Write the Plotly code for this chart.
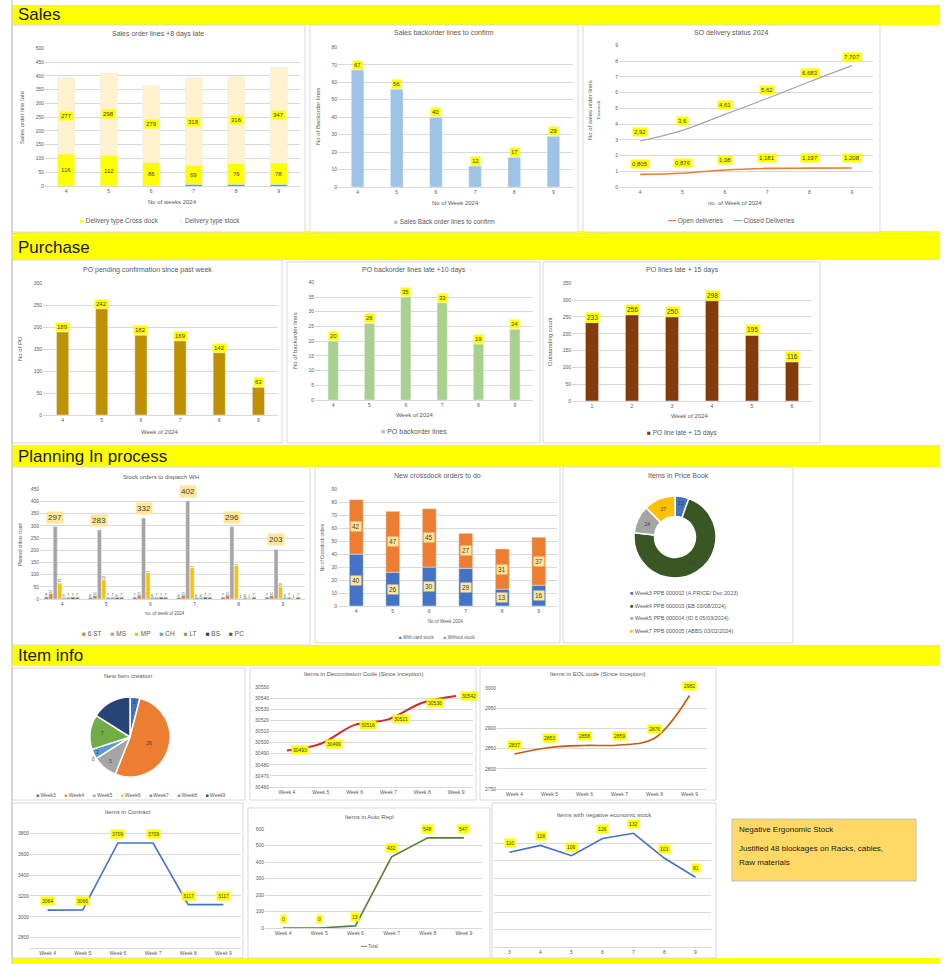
import plotly.graph_objects as go

W, H = 946, 964
FONT = "Liberation Sans"
TXT = "#595959"
GRID = "#D9D9D9"
YELLOW = "#FFFF00"
SOFT = "#FFE699"

# ---------------------------------------------------------------------------
# Data
# ---------------------------------------------------------------------------

# Sales
sales_weeks = ["4", "5", "6", "7", "8", "9"]
late_other = [0, 0, 0, 6, 6, 6]
late_crossdock = [116, 112, 86, 69, 76, 78]
late_stock = [277, 298, 279, 318, 316, 347]

backorder_weeks = ["4", "5", "6", "7", "8", "9"]
backorder_lines = [67, 56, 40, 12, 17, 29]

delivery_weeks = ["4", "5", "6", "7", "8", "9"]
open_deliveries = [0.805, 0.876, 1.08, 1.181, 1.197, 1.208]
closed_deliveries = [2.92, 3.6, 4.61, 5.62, 6.683, 7.707]

# Purchase
po_weeks = ["4", "5", "6", "7", "8", "9"]
po_pending = [189, 242, 182, 169, 142, 63]
po_backorder = [20, 26, 35, 33, 19, 24]
po_late_weeks = ["1", "2", "3", "4", "5", "6"]
po_late = [233, 256, 250, 298, 195, 116]

# Planning
stock_weeks = ["4", "5", "6", "7", "8", "9"]
stock_names = ["ST", "6.ST", "MS", "MP", "CH", "LT", "BS", "PC"]
stock_st = [8, 6, 7, 6, 7, 7]
stock_6st = [22, 14, 15, 15, 15, 14]
stock_ms = [297, 283, 332, 402, 296, 203]
stock_mp = [65, 79, 107, 128, 137, 49]
stock_ch = [5, 7, 6, 6, 1, 6]
stock_lt = [7, 7, 7, 6, 6, 7]
stock_bs = [7, 6, 7, 7, 1, 1]
stock_pc = [7, 7, 7, 7, 7, 7]

crossdock_weeks = ["4", "5", "6", "7", "8", "9"]
crossdock_with = [40, 26, 30, 29, 13, 16]
crossdock_without = [42, 47, 45, 27, 31, 37]

pricebook_labels = ["Week3 PPB 000002 (A.PRICE/ Dec 2023)",
                    "Week4 PPB 000003 (EB 03/08/2024)",
                    "Week5 PPB 000004 (ID 6 05/03/2024)",
                    "Week7 PPB 000005 (ABBS 03/02/2024)"]
pricebook_values = [12, 155, 24, 27]

# Item info
new_item_weeks = ["Week3", "Week4", "Week5", "Week6", "Week7", "Week8", "Week9"]
new_item_counts = [2, 26, 5, 0, 2, 7, 8]

item_weeks = ["Week 4", "Week 5", "Week 6", "Week 7", "Week 8", "Week 9"]
decom_items = [30493, 30499, 30516, 30521, 30536, 30542]
eol_items = [2837, 2853, 2858, 2859, 2876, 2982]
contract_items = [3064, 3066, 3709, 3709, 3117, 3117]
autorepl_items = [0, 0, 13, 432, 548, 547]

negstock_weeks = ["3", "4", "5", "6", "7", "8", "9"]
negstock_items = [110, 118, 106, 126, 132, 103, 81]

# ---------------------------------------------------------------------------
# Helpers
# ---------------------------------------------------------------------------

fig = go.Figure()
shapes = []
annotations = []


def px_x(x):
    return x / W


def px_y(y):
    return 1 - y / H


def ax_ids(n):
    s = "" if n == 1 else str(n)
    return "x" + s, "y" + s, "xaxis" + s, "yaxis" + s


def add_axes(n, area, cats, yrange, dtick, yticks=True):
    xr, yr, xa, ya = ax_ids(n)
    x0, x1, y0, y1 = area
    fig.update_layout(**{
        xa: dict(domain=[px_x(x0), px_x(x1)], anchor=yr, type="category",
                 categoryorder="array", categoryarray=cats,
                 range=[-0.5, len(cats) - 0.5],
                 showline=True, linecolor=GRID, linewidth=1, ticks="",
                 showgrid=False, zeroline=False,
                 tickfont=dict(size=5, color=TXT)),
        ya: dict(domain=[px_y(y1), px_y(y0)], anchor=xr, range=yrange, dtick=dtick,
                 tickformat="d", showgrid=True, gridcolor=GRID, gridwidth=1,
                 zeroline=False, showline=False, ticks="", showticklabels=yticks,
                 tickfont=dict(size=5, color=TXT)),
    })


def tag(n, x, y, text, bg=YELLOW, size=6, yanchor="middle", xanchor="center",
        yshift=0, xshift=0):
    xr, yr, _, _ = ax_ids(n)
    annotations.append(dict(
        xref=xr, yref=yr, x=x, y=y, text=text, showarrow=False, bgcolor=bg,
        borderpad=1, font=dict(size=size, color="#404040"),
        yanchor=yanchor, xanchor=xanchor, yshift=yshift, xshift=xshift))


def note(x, y, text, size=6, color=TXT, angle=0, xanchor="center"):
    annotations.append(dict(
        xref="paper", yref="paper", x=px_x(x), y=px_y(y), text=text,
        showarrow=False, textangle=angle, font=dict(size=size, color=color),
        xanchor=xanchor, yanchor="middle", align="left"))


def box(x0, y0, x1, y1, fill="white", line=GRID, width=1):
    shapes.append(dict(
        type="rect", xref="paper", yref="paper",
        x0=px_x(x0), x1=px_x(x1), y0=px_y(y1), y1=px_y(y0),
        fillcolor=fill, line=dict(color=line, width=width), layer="below"))


def legend_row(names, colors, x, y, size=6, gap=5, sym="■", xanchor="center"):
    parts = [f'<span style="color:{c}">{sym}</span>\u00a0{nm}' for nm, c in zip(names, colors)]
    note(x, y, ("\u00a0" * gap).join(parts), size=size, xanchor=xanchor)


def header(y0, y1, text):
    box(12, y0, 940, y1, fill=YELLOW, line=YELLOW, width=0)
    annotations.append(dict(
        xref="paper", yref="paper", x=px_x(16), y=px_y((y0 + y1) / 2),
        text=text, showarrow=False, xanchor="left", yanchor="middle",
        font=dict(size=17, color="#1A1A1A")))


# ---------------------------------------------------------------------------
# Sheet frame
# ---------------------------------------------------------------------------

shapes.append(dict(type="line", xref="paper", yref="paper", x0=px_x(12), x1=px_x(12),
                   y0=0, y1=1, line=dict(color="#BFBFBF", width=1)))
header(5, 25, "Sales")
box(12, 231, 940, 235, fill=YELLOW, line=YELLOW, width=0)
header(236, 260, "Purchase")
header(445, 467, "Planning In process")
header(645, 666, "Item info")
box(12, 958, 940, 964, fill=YELLOW, line=YELLOW, width=0)

for b in [(12, 25, 305, 232), (310, 25, 578, 232), (583, 25, 880, 232),
          (12, 260, 282, 443), (287, 262, 540, 443), (543, 262, 820, 443),
          (12, 467, 310, 645), (315, 467, 560, 643), (563, 467, 793, 643),
          (12, 668, 245, 800), (250, 668, 476, 800), (480, 668, 716, 800),
          (12, 803, 243, 958), (248, 808, 490, 958), (492, 803, 716, 958)]:
    box(*b)

# ---------------------------------------------------------------------------
# Sales order lines +8 days late (stacked)
# ---------------------------------------------------------------------------

add_axes(1, (45, 300, 48, 186), sales_weeks, [0, 501], 50)
mid = [a + b for a, b in zip(late_other, late_crossdock)]
fig.add_trace(go.Bar(x=sales_weeks, y=late_other, xaxis="x", yaxis="y",
                     width=0.4, offset=-0.2, marker_color="#4472C4"))
fig.add_trace(go.Bar(x=sales_weeks, y=late_crossdock, base=late_other, xaxis="x", yaxis="y",
                     width=0.4, offset=-0.2, marker_color=YELLOW))
fig.add_trace(go.Bar(x=sales_weeks, y=late_stock, base=mid, xaxis="x", yaxis="y",
                     width=0.4, offset=-0.2, marker_color="#FFF2CC"))
for i in range(len(sales_weeks)):
    tag(1, i, late_other[i] + late_crossdock[i] / 2, str(late_crossdock[i]))
    tag(1, i, mid[i] + late_stock[i] / 2, str(late_stock[i]))
note(158, 34, "Sales order lines +8 days late", size=7)
note(172, 202, "No of weeks 2024")
note(22, 117, "Sales order line late", angle=-90)
legend_row(["Delivery type Cross dock", "Delivery type stock"], [YELLOW, "#FFF2CC"], 160, 221,
           size=6.5, gap=12)

# ---------------------------------------------------------------------------
# Sales backorder lines to confirm
# ---------------------------------------------------------------------------

add_axes(2, (338, 573, 47, 187), backorder_weeks, [0, 80.2], 10)
fig.add_trace(go.Bar(x=backorder_weeks, y=backorder_lines, xaxis="x2", yaxis="y2",
                     width=0.32, offset=-0.16, marker_color="#9DC3E6"))
for i, v in enumerate(backorder_lines):
    tag(2, i, v, str(v), yanchor="bottom")
note(444, 33, "Sales backorder lines to confirm", size=7)
note(455, 203, "No of Week 2024")
note(318, 117, "No of Backorder lines", angle=-90)
legend_row(["Sales Back order lines to confirm"], ["#9DC3E6"], 444, 222, size=6.5)

# ---------------------------------------------------------------------------
# SO delivery status
# ---------------------------------------------------------------------------

add_axes(3, (619, 873, 45, 187), delivery_weeks, [0, 9.02], 1)
fig.add_trace(go.Scatter(x=delivery_weeks, y=open_deliveries, xaxis="x3", yaxis="y3",
                         mode="lines", line=dict(color="#ED7D31", width=1.6, shape="spline")))
fig.add_trace(go.Scatter(x=delivery_weeks, y=closed_deliveries, xaxis="x3", yaxis="y3",
                         mode="lines", line=dict(color="#A5A5A5", width=1.2, shape="spline")))
for i in range(len(delivery_weeks)):
    tag(3, i, open_deliveries[i], f"{open_deliveries[i]:g}".replace(".", ","), yshift=10)
    tag(3, i, closed_deliveries[i], f"{closed_deliveries[i]:g}".replace(".", ","), yshift=9)
note(731, 33, "SO delivery status 2024", size=7)
note(735, 203, "no. of Week of 2024")
note(590, 110, "No of sales order lines", angle=-90)
note(598, 110, "Thousands", size=4, angle=-90)
legend_row(["Open deliveries", "Closed Deliveries"], ["#ED7D31", "#A5A5A5"], 731, 221,
           size=6.5, gap=6, sym="━━")

# ---------------------------------------------------------------------------
# Purchase
# ---------------------------------------------------------------------------

add_axes(4, (43, 278, 283, 415), po_weeks, [0, 301], 50)
fig.add_trace(go.Bar(x=po_weeks, y=po_pending, xaxis="x4", yaxis="y4",
                     width=0.31, offset=-0.155, marker_color="#BF9000"))
for i, v in enumerate(po_pending):
    tag(4, i, v, str(v), yanchor="bottom")
note(147, 270, "PO pending confirmation since past week", size=7)
note(160, 432, "Week of 2024")
note(20, 349, "No of PO", angle=-90)

add_axes(5, (315, 533, 282, 400), po_weeks, [0, 40.1], 5)
fig.add_trace(go.Bar(x=po_weeks, y=po_backorder, xaxis="x5", yaxis="y5",
                     width=0.28, offset=-0.14, marker_color="#A9D18E"))
for i, v in enumerate(po_backorder):
    tag(5, i, v, str(v), yanchor="bottom")
note(414, 270, "PO backorder lines late +10 days", size=7)
note(415, 415, "Week of 2024")
note(295, 341, "No of backorder lines", angle=-90)
legend_row(["PO backorder lines"], ["#A9D18E"], 414, 432, size=7)

add_axes(6, (572, 812, 283, 401), po_late_weeks, [0, 351], 50)
fig.add_trace(go.Bar(x=po_late_weeks, y=po_late, xaxis="x6", yaxis="y6",
                     width=0.33, offset=-0.165, marker_color="#843C0C"))
for i, v in enumerate(po_late):
    tag(6, i, v, str(v), yanchor="bottom", size=6.5)
note(682, 270, "PO lines late + 15 days", size=7)
note(690, 416, "Week of 2024")
note(550, 342, "Outstanding count", angle=-90)
legend_row(["PO line late + 15 days"], ["#843C0C"], 682, 433, size=6.5)

# ---------------------------------------------------------------------------
# Stock orders per WH (grouped)
# ---------------------------------------------------------------------------

add_axes(7, (40, 305, 489, 599), stock_weeks, [0, 451], 50)
stock_series = [stock_st, stock_6st, stock_ms, stock_mp, stock_ch, stock_lt, stock_bs, stock_pc]
stock_colors = ["#4472C4", "#ED7D31", "#A5A5A5", "#FFC000", "#5B9BD5", "#70AD47", "#264478", "#9E480E"]
bw = 0.1
for k, (name, vals, col) in enumerate(zip(stock_names, stock_series, stock_colors)):
    off = -0.4 + k * bw
    big = name == "MS"
    fig.add_trace(go.Bar(x=stock_weeks, y=vals, xaxis="x7", yaxis="y7",
                         width=bw * 0.9, offset=off, marker_color=col,
                         text=None if big else vals, textposition="outside",
                         textfont=dict(size=4, color=TXT), cliponaxis=False))
    if big:
        for i, v in enumerate(vals):
            tag(7, i + off + bw * 0.45, v, str(v), bg=SOFT, size=8, yanchor="bottom", yshift=3)
note(161, 477, "Stock orders to dispatch WH", size=6)
note(165, 613, "no. of week of 2024", size=4.5)
note(20, 544, "Planned orders count", size=4.5, angle=-90)
legend_row(stock_names[1:], stock_colors[1:], 163, 633, size=6.5, gap=5)

# ---------------------------------------------------------------------------
# New crossdock orders (stacked)
# ---------------------------------------------------------------------------

add_axes(8, (338, 557, 489, 606), crossdock_weeks, [0, 90.2], 10)
fig.add_trace(go.Bar(x=crossdock_weeks, y=crossdock_with, xaxis="x8", yaxis="y8",
                     width=0.38, offset=-0.19, marker_color="#4472C4"))
fig.add_trace(go.Bar(x=crossdock_weeks, y=crossdock_without, base=crossdock_with,
                     xaxis="x8", yaxis="y8", width=0.38, offset=-0.19,
                     marker_color="#ED7D31"))
for i in range(len(crossdock_weeks)):
    tag(8, i, crossdock_with[i] / 2, str(crossdock_with[i]), bg=SOFT, size=6.5)
    tag(8, i, crossdock_with[i] + crossdock_without[i] / 2, str(crossdock_without[i]), bg=SOFT, size=6.5)
note(437, 475, "New crossdock orders to do", size=7)
note(445, 621, "No of Week 2024", size=4.5)
note(322, 547, "No of Crossdock orders", size=4.5, angle=-90)
legend_row(["With card stock", "Without stock"], ["#4472C4", "#ED7D31"], 437, 637, size=4.5, gap=8)

# ---------------------------------------------------------------------------
# Items in Price Book (donut)
# ---------------------------------------------------------------------------

pb_colors = ["#4472C4", "#385723", "#A5A5A5", "#FFC000"]
fig.add_trace(go.Pie(labels=pricebook_labels, values=pricebook_values, hole=0.5,
                     domain=dict(x=[px_x(634), px_x(716)], y=[px_y(578), px_y(496)]),
                     sort=False, direction="clockwise",
                     marker=dict(colors=pb_colors, line=dict(color="white", width=1.5)),
                     textinfo="value", textfont=dict(size=5, color="#404040")))
note(678, 475, "Items in Price Book", size=7)
for k, (lab, col) in enumerate(zip(pricebook_labels, pb_colors)):
    legend_row([lab], [col], 628, 593 + k * 12.7, size=5.5, xanchor="left")

# ---------------------------------------------------------------------------
# New item creation (pie)
# ---------------------------------------------------------------------------

ni_colors = ["#4472C4", "#ED7D31", "#A5A5A5", "#FFC000", "#5B9BD5", "#70AD47", "#264478"]
fig.add_trace(go.Pie(labels=new_item_weeks, values=new_item_counts,
                     domain=dict(x=[px_x(90), px_x(170)], y=[px_y(777), px_y(697)]),
                     sort=False, direction="clockwise",
                     marker=dict(colors=ni_colors, line=dict(color="white", width=1.5)),
                     textinfo="value", textfont=dict(size=5, color="#404040")))
note(128, 676, "New Item creation", size=6)
legend_row(new_item_weeks, ni_colors, 131, 795, size=5, gap=6)

# ---------------------------------------------------------------------------
# Item info lines
# ---------------------------------------------------------------------------

add_axes(9, (270, 473, 687, 787), item_weeks, [30460, 30550.2], 10)
fig.add_trace(go.Scatter(x=item_weeks, y=decom_items, xaxis="x9", yaxis="y9", mode="lines",
                         line=dict(color="#D42A2A", width=2, shape="spline")))
for i, v in enumerate(decom_items):
    tag(9, i, v, str(v), size=5, xanchor="left", xshift=4)
note(363, 674, "Items in Decomission Code (Since inception)", size=6)

add_axes(10, (497, 707, 688, 789), item_weeks, [2750, 3000.5], 50)
fig.add_trace(go.Scatter(x=item_weeks, y=eol_items, xaxis="x10", yaxis="y10", mode="lines",
                         line=dict(color="#C55A11", width=1.6, shape="spline")))
for i, v in enumerate(eol_items):
    tag(10, i, v, str(v), size=5, yshift=9)
note(598, 674, "Items in EOL code (Since inception)", size=6)

add_axes(11, (30, 241, 823, 948), item_weeks, [2700, 3901], 200)
fig.add_trace(go.Scatter(x=item_weeks, y=contract_items, xaxis="x11", yaxis="y11", mode="lines",
                         line=dict(color="#4472C4", width=1.6)))
for i, v in enumerate(contract_items):
    tag(11, i, v, str(v), size=5, yshift=9)
note(128, 812, "Items in Contract", size=6)

add_axes(12, (265, 482, 829, 928), item_weeks, [0, 601], 100)
fig.add_trace(go.Scatter(x=item_weeks, y=autorepl_items, xaxis="x12", yaxis="y12", mode="lines",
                         line=dict(color="#548235", width=1.6)))
for i, v in enumerate(autorepl_items):
    tag(12, i, v, str(v), size=5, yshift=9)
note(369, 817, "Items in Auto Repl", size=6)
legend_row(["Total"], ["#548235"], 369, 946, size=4.5, sym="━━")

add_axes(13, (494, 711, 826, 947), negstock_weeks, [0, 140.5], 20, yticks=False)
fig.add_trace(go.Scatter(x=negstock_weeks, y=negstock_items, xaxis="x13", yaxis="y13", mode="lines",
                         line=dict(color="#4472C4", width=1.6)))
for i, v in enumerate(negstock_items):
    tag(13, i, v, str(v), size=5, yshift=9)
note(604, 815, "Items with negative economic stock", size=6)

# Note box
box(732, 819, 916, 881, fill="#FFD966", line="#BFBFBF")
note(737, 829, "Negative Ergonomic Stock", size=8, color="#1A1A1A", xanchor="left")
note(737, 848, "Justified 48 blockages on Racks, cables,", size=8, color="#1A1A1A", xanchor="left")
note(737, 862, "Raw materials", size=8, color="#1A1A1A", xanchor="left")

fig.update_layout(
    width=W, height=H,
    margin=dict(l=0, r=0, t=0, b=0, autoexpand=False),
    paper_bgcolor="white",
    plot_bgcolor="rgba(0,0,0,0)",
    font=dict(family=FONT, color=TXT),
    shapes=shapes,
    annotations=annotations,
    showlegend=False,
    barmode="overlay",
)

# the page body carries a default 8px margin; drop it so the figure fills the window
fig.write_html("out.html", config={"displayModeBar": False},
               post_script="document.body.style.margin='0px';")
